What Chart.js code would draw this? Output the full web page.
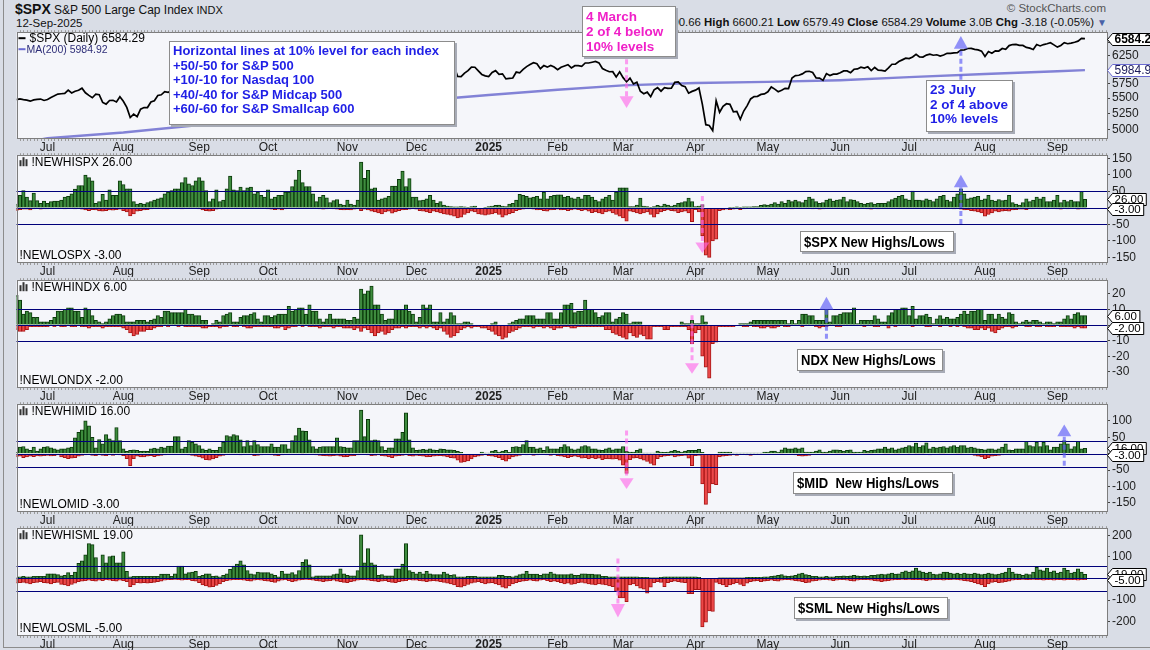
<!DOCTYPE html>
<html>
<head>
<meta charset="utf-8">
<title>$SPX New Highs/Lows</title>
<script src="https://cdn.jsdelivr.net/npm/chart.js@4.4.1/dist/chart.umd.min.js"></script>
<style>
  body { margin:0; width:1150px; height:650px; background:#d9dde6; position:relative; overflow:hidden; font-family:'Liberation Sans', Arial, sans-serif; color:#111; }
  canvas { position:absolute; left:0; }
  .txt { position:absolute; white-space:pre; }
  .note { position:absolute; background:#fff; border:1px solid #8c8c8c; box-shadow:2px 2px 0 #a7abb6; font-weight:bold; white-space:pre; z-index:5; }
  .title { font-size:15px; color:#000; line-height:19px; padding-left:3px; }
  .title span { display:inline-block; transform:scaleX(.87); transform-origin:0 50%; }
  .frame { position:absolute; left:3px; top:0; width:1147px; height:647px; border-left:1px solid #8c8c8c; border-bottom:1px solid #8c8c8c; }
</style>
</head>
<body>
<div class="frame"></div>
<div class="txt" style="left:15px;top:1px;font-size:14px;font-weight:bold">$SPX</div>
<div class="txt" style="left:54px;top:3px;font-size:12px">S&amp;P 500 Large Cap Index <span style="font-size:11px">INDX</span></div>
<div class="txt" style="left:16px;top:17px;font-size:11.5px">12-Sep-2025</div>
<div class="txt" style="right:44px;top:2px;font-size:11.5px;color:#555">© StockCharts.com</div>
<div class="txt" style="right:43px;top:16px;font-size:11.4px"><b>Open</b> 6590.66 <b>High</b> 6600.21 <b>Low</b> 6579.49 <b>Close</b> 6584.29 <b>Volume</b> 3.0B <b>Chg</b> -3.18 (-0.05%) <span style="color:#4a62a8;font-size:10px">▼</span></div>

<canvas id="c1" width="1150" height="130" style="top:23px"></canvas>
<canvas id="c2" width="1150" height="131" style="top:146px"></canvas>
<canvas id="c3" width="1150" height="131" style="top:271px"></canvas>
<canvas id="c4" width="1150" height="131" style="top:395px"></canvas>
<canvas id="c5" width="1150" height="131" style="top:519px"></canvas>

<div class="note" style="left:169px;top:41px;width:281px;height:80px;padding:2px 0 0 3px;color:#1f1fe6;font-size:13px;line-height:14.6px">Horizontal lines at 10% level for each index
+50/-50 for S&amp;P 500
+10/-10 for Nasdaq 100
+40/-40 for S&amp;P Midcap 500
+60/-60 for S&amp;P Smallcap 600</div>
<div class="note" style="left:582px;top:6px;width:89px;height:47px;padding:2px 0 0 3px;color:#f020c8;font-size:13.5px;line-height:15px">4 March
2 of 4 below
10% levels</div>
<div class="note" style="left:926px;top:80px;width:82px;height:48px;padding:2px 0 0 3px;color:#1f1fe6;font-size:13.5px;line-height:14.5px">23 July
2 of 4 above
10% levels</div>
<div class="note title" style="left:800px;top:231px;width:149px;height:19px"><span>$SPX New Highs/Lows</span></div>
<div class="note title" style="left:797px;top:349px;width:141px;height:20px"><span>NDX New Highs/Lows</span></div>
<div class="note title" style="left:793px;top:472px;width:155px;height:20px"><span>$MID  New Highs/Lows</span></div>
<div class="note title" style="left:794px;top:597px;width:149px;height:20px"><span>$SML New Highs/Lows</span></div>

<script>
// trading days from 17-Jun-2024 to 12-Sep-2025, one value per day, one line per month
const monthNames = ['Jul','Aug','Sep','Oct','Nov','Dec','2025','Feb','Mar','Apr','May','Jun','Jul','Aug','Sep'];
const monthStart = [9,31,53,73,96,116,137,157,176,197,218,239,259,281,302];

const spxClose = [
  5473,5487,5473,5465,5448,5469,5478,5483,5460,
  5475,5509,5537,5567,5572,5577,5633,5585,5615,5631,5667,5588,5544,5505,5564,5555,5427,5400,5459,5463,5436,5522,
  5446,5347,5186,5240,5199,5319,5344,5344,5435,5455,5543,5554,5608,5597,5621,5571,5635,5617,5626,5592,5592,5648,
  5529,5520,5503,5408,5471,5496,5554,5596,5626,5634,5635,5618,5714,5703,5719,5732,5722,5745,5738,5762,
  5709,5710,5700,5751,5696,5751,5793,5780,5815,5859,5815,5843,5841,5864,5853,5851,5797,5809,5808,5823,5833,5813,5705,
  5729,5712,5782,5929,5973,5996,6001,5984,5985,5949,5870,5894,5917,5917,5949,5969,5987,6021,5999,6032,
  6047,6050,6086,6075,6090,6053,6034,6084,6051,6051,6074,6050,5872,5867,5931,5975,6040,6037,5971,5907,5882,
  5869,5942,5975,5909,5918,5827,5836,5843,5950,5937,5997,6049,6086,6119,6101,6012,6068,6039,6071,6041,
  5994,6038,6061,6084,6026,6066,6068,6052,6115,6115,6129,6144,6118,6013,5983,5955,5956,5861,5955,
  5850,5778,5842,5739,5770,5615,5572,5599,5522,5639,5675,5615,5676,5663,5668,5768,5777,5712,5693,5581,5612,
  5633,5671,5397,5074,5062,4983,5457,5268,5363,5406,5397,5276,5283,5158,5288,5376,5485,5525,5529,5561,5569,
  5604,5687,5650,5607,5631,5664,5660,5844,5886,5892,5917,5958,5964,5941,5845,5842,5802,5922,5889,5912,5912,
  5936,5970,5971,5939,6000,6006,6038,6022,6045,5977,6033,5983,5981,5967,6025,6092,6092,6141,6173,6205,
  6198,6227,6279,6230,6226,6263,6281,6260,6269,6244,6264,6297,6297,6306,6309,6359,6363,6389,6390,6371,6363,6339,
  6238,6330,6299,6345,6340,6389,6374,6446,6466,6469,6450,6449,6411,6396,6370,6467,6439,6466,6481,6502,6460,
  6416,6448,6502,6482,6495,6512,6532,6587,6584.29
];
const maDay = [0,9,31,53,73,96,116,137,157,176,197,218,239,259,281,302,310];
const maValue = [4790,4870,4955,5070,5200,5330,5450,5550,5640,5715,5755,5775,5805,5860,5915,5965,5984.92];

const spxHi = [
  12,38,53,33,22,45,22,14,21,
  14,19,21,21,24,33,35,43,57,68,68,100,92,82,14,19,41,24,55,38,38,82,
  71,58,58,19,12,14,12,16,19,24,28,31,43,48,53,58,58,77,92,73,68,82,
  92,82,53,19,28,55,19,24,58,97,55,53,63,53,61,63,43,48,38,33,
  55,28,33,38,38,48,48,65,85,114,77,65,65,43,19,33,38,31,16,22,25,12,9,
  24,12,9,24,139,90,114,58,61,24,28,31,35,66,66,87,112,65,89,33,
  33,22,24,28,38,24,14,19,9,6,4,3,3,4,3,2,4,6,0,0,2,
  4,6,8,9,6,4,12,14,24,41,38,35,31,33,35,28,48,28,35,38,
  40,40,33,35,31,28,33,28,38,38,33,24,19,28,33,38,24,48,61,
  61,61,4,4,9,30,6,4,2,4,8,6,12,9,6,9,14,16,19,30,19,
  4,6,10,0,0,0,0,0,0,0,2,1,3,2,3,3,3,4,4,8,10,
  9,12,16,12,19,14,24,19,24,19,16,24,33,28,19,14,16,24,28,21,24,
  25,33,19,25,24,19,14,12,14,16,12,14,14,14,19,25,30,35,38,28,
  24,51,24,24,22,28,24,19,28,35,38,24,19,33,43,58,43,28,31,33,35,24,
  28,38,24,21,25,22,24,38,16,12,9,16,28,19,24,33,28,33,19,19,24,
  38,16,24,19,24,19,19,50,26
];
const spxLo = [
  -8,-5,-4,-4,-6,-3,-2,-4,-3,
  -3,-2,-2,-1,-2,-3,-2,-2,-3,-2,-4,-6,-8,-5,-6,-9,-10,-8,-6,-7,-5,-4,
  -8,-12,-24,-18,-10,-8,-6,-5,-3,-2,-2,-1,-1,-1,-2,-2,-1,-3,-2,-2,-1,-2,
  -3,-6,-8,-10,-8,-4,-3,-2,-2,-1,-1,-2,-2,-1,-1,-2,-2,-1,-2,-2,
  -3,-4,-5,-4,-6,-3,-2,-2,-2,-1,-1,-2,-2,-1,-1,-3,-4,-3,-2,-3,-4,-5,-6,
  -5,-6,-4,-3,-8,-4,-6,-10,-12,-15,-18,-12,-10,-16,-12,-8,-6,-5,-4,-3,
  -4,-8,-10,-12,-14,-10,-12,-15,-18,-20,-22,-25,-30,-28,-20,-15,-10,-12,-18,-20,-22,
  -20,-18,-15,-20,-28,-22,-18,-14,-8,-5,-4,-3,-3,-4,-6,-5,-8,-10,-6,-5,
  -4,-6,-5,-8,-6,-4,-5,-8,-6,-10,-14,-12,-15,-18,-12,-10,-15,-20,-25,
  -30,-40,-10,-12,-15,-18,-15,-12,-20,-28,-18,-12,-8,-6,-8,-10,-14,-12,-10,-15,-42,
  -5,-12,-85,-143,-150,-100,-95,-8,-6,-4,-5,-4,-3,-5,-3,-2,-2,-1,-1,-1,-1,
  -2,-1,-1,-1,-2,-1,-2,-3,-2,-1,-1,-1,-2,-3,-2,-4,-3,-2,-2,-1,-1,
  -2,-3,-2,-2,-1,-2,-1,-2,-3,-4,-2,-3,-2,-2,-1,-1,-2,-1,-1,-2,
  -2,-1,-2,-1,-1,-2,-1,-1,-2,-2,-1,-1,-2,-3,-2,-4,-6,-5,-8,-10,-12,-15,
  -25,-20,-15,-10,-12,-10,-8,-10,-6,-5,-4,-4,-5,-3,-3,-2,-3,-2,-3,-2,-2,
  -3,-4,-2,-3,-2,-2,-4,-3,-3
];

const ndxHi = [
  19,16,7,9,8,5,5,2,2,
  2,3,5,9,9,10,11,11,9,9,5,11,10,6,3,2,1,2,4,6,7,7,
  6,2,2,2,3,3,3,2,3,4,6,5,9,9,8,8,8,8,10,7,7,6,
  6,3,3,0,1,3,2,6,7,8,2,2,5,6,6,7,8,4,2,6,
  6,5,6,7,7,7,12,9,10,11,11,7,13,9,9,4,2,4,7,4,4,4,4,
  3,3,5,4,23,20,22,25,13,13,7,3,4,4,10,10,10,13,9,7,
  2,5,13,11,13,2,2,8,2,4,8,6,1,1,2,2,1,0,0,0,0,
  0,1,2,0,0,0,1,2,3,4,4,6,6,6,4,4,4,8,8,4,
  4,8,13,13,14,8,9,9,16,10,10,8,5,6,8,8,2,4,5,
  8,7,1,2,2,2,0,0,0,0,0,0,0,0,0,0,0,2,1,1,3,
  1,1,6,2,0,0,0,0,0,0,0,0,0,1,1,1,2,3,3,3,3,
  3,3,3,3,3,3,1,3,1,3,7,7,6,6,3,3,3,10,2,6,6,
  7,8,8,8,11,1,3,3,3,3,6,4,2,2,6,8,10,10,11,11,
  6,12,4,6,6,7,5,1,4,6,4,5,4,4,5,7,9,7,9,9,10,10,
  3,7,7,4,7,5,4,8,7,2,1,2,3,2,3,3,2,1,2,2,1,
  2,2,4,6,4,7,8,6,6
];
const ndxLo = [
  -3,-4,-4,-3,-1,-1,-1,-1,-1,
  -1,0,-1,0,-1,-1,0,-1,-1,0,-1,-1,-2,-1,-1,-1,-2,-1,-1,-1,-1,-1,
  -2,-3,-5,-7,-6,-4,-4,-3,-3,-2,-1,-1,0,-1,0,0,-1,0,-1,-1,-1,-1,
  -1,-2,-2,-1,-1,-1,-2,-1,-1,0,-1,-1,0,-1,-2,-2,-1,-1,-1,-1,
  -1,-1,-2,-2,-1,-3,-2,-1,-1,0,-1,0,-1,-1,-1,-2,-1,-1,-1,-2,-1,-1,-2,
  -2,-2,-3,-2,-4,-2,-3,-5,-7,-5,-4,-6,-5,-3,-2,-2,-1,-2,-1,-1,
  -1,-2,-1,-2,-1,-2,-3,-2,-4,-6,-8,-7,-5,-3,-2,-1,-2,-1,-1,-2,-2,
  -3,-4,-6,-7,-9,-8,-5,-4,-3,-2,-1,-1,-1,-2,-1,-1,-2,-1,-2,-3,
  -2,-2,-1,-1,-2,-2,-1,-1,-1,-1,-1,-1,-1,-1,-3,-3,-5,-6,-7,
  -8,-9,-5,-7,-8,-6,-7,-9,-9,-1,-1,-1,-3,-3,-1,-1,-1,-1,-1,-3,-12,
  -5,-3,-20,-27,-34,-12,-11,-1,-1,-1,-1,-1,0,0,-1,-1,0,-1,-1,-2,-2,
  -1,-2,-2,-1,0,-1,-1,0,0,0,-1,0,0,0,-1,-2,-1,-1,0,0,-1,
  -1,0,0,0,0,0,0,-1,0,0,-1,-1,0,0,-2,0,-1,0,0,0,
  0,-1,0,0,0,-1,-1,0,0,-1,0,0,-1,0,-1,0,-1,-2,-2,-3,-3,-2,
  -3,-2,-4,-5,-3,-2,-1,-1,-2,-1,0,0,-1,-1,0,-1,-1,0,-1,-1,-1,
  0,-1,-1,-1,-1,-2,-1,-2,-2
];

const midHi = [
  5,20,22,15,10,20,8,15,20,
  22,18,15,12,15,15,18,20,48,65,73,100,85,50,18,43,30,58,45,40,80,40,
  15,7,10,12,10,7,8,7,15,17,15,20,18,23,23,52,52,15,20,40,35,30,
  25,15,10,15,10,10,20,35,55,52,58,55,42,22,40,25,40,28,22,22,
  22,30,20,20,28,28,15,40,55,78,70,68,42,22,15,20,22,22,22,22,48,22,20,
  18,18,40,40,133,52,105,40,42,40,22,10,18,18,45,45,65,125,42,18,
  10,12,13,12,15,12,10,15,13,12,12,10,7,4,0,0,0,0,0,5,2,
  2,8,10,5,8,10,4,20,22,20,28,40,20,20,15,18,10,22,15,15,
  15,20,28,22,15,12,15,22,25,22,15,15,12,10,15,18,12,15,15,
  22,7,5,5,10,15,2,2,2,2,8,5,4,5,8,10,8,5,8,10,10,
  10,13,4,0,0,0,0,5,5,5,5,2,2,2,2,2,2,2,2,2,5,
  5,8,8,5,12,18,15,15,18,15,18,5,5,5,8,12,5,5,8,12,12,
  10,8,10,12,5,5,5,10,8,10,12,15,15,20,15,18,12,15,18,20,
  25,22,32,20,25,33,15,20,18,20,22,18,22,25,20,25,25,18,20,18,15,13,
  12,15,15,12,15,20,30,12,10,15,15,15,38,25,22,35,22,35,25,12,20,
  20,30,40,30,15,22,38,15,16
];
const midLo = [
  -10,-8,-12,-10,-8,-9,-7,-8,-6,
  -5,-7,-6,-4,-10,-12,-15,-14,-12,-8,-5,-4,-3,-5,-6,-4,-5,-6,-4,-5,-3,-4,
  -6,-15,-37,-15,-8,-10,-10,-8,-6,-9,-7,-5,-4,-3,-3,-2,-3,-2,-3,-4,-5,-8,
  -10,-14,-18,-20,-16,-12,-8,-5,-3,-2,-2,-3,-4,-3,-2,-3,-6,-5,-4,-3,
  -3,-4,-5,-6,-4,-3,-2,-3,-2,-2,-1,-2,-2,-3,-4,-5,-6,-7,-8,-6,-5,-8,-10,
  -9,-7,-6,-4,-2,-3,-4,-6,-5,-4,-6,-8,-10,-12,-8,-6,-5,-4,-6,-8,
  -5,-6,-8,-10,-9,-8,-7,-6,-8,-10,-12,-14,-20,-27,-25,-22,-16,-10,-8,-5,-4,
  -6,-8,-10,-12,-18,-23,-16,-10,-8,-5,-3,-4,-3,-5,-4,-3,-2,-4,-5,-3,
  -6,-8,-10,-12,-9,-8,-10,-14,-12,-16,-13,-15,-14,-18,-15,-16,-17,-15,-20,
  -35,-60,-18,-14,-12,-16,-20,-24,-30,-35,-15,-10,-8,-6,-5,-10,-8,-6,-5,-14,-37,
  -6,-5,-92,-155,-120,-92,-95,-10,-8,-6,-5,-4,-5,-3,-3,-4,-5,-3,-2,-2,-2,
  -2,-2,-3,-2,-1,-2,-3,-2,-4,-6,-8,-7,-5,-3,-2,-2,-1,-1,-2,-2,-1,
  -1,-1,-2,-1,-1,-2,-2,-1,-1,-1,-2,-3,-2,-1,-1,-2,-1,-1,-2,-2,
  -1,-2,-1,-1,-1,-3,-4,-3,-2,-1,-1,-2,-3,-2,-1,-1,-2,-2,-3,-5,-8,-10,
  -15,-12,-8,-6,-5,-4,-3,-3,-2,-2,-3,-2,-1,-2,-2,-3,-2,-3,-2,-3,-2,
  -2,-3,-2,-3,-2,-3,-2,-4,-3
];

const smlHi = [
  3,8,10,8,8,10,10,10,10,
  22,22,22,18,12,15,27,15,30,70,82,110,162,157,97,30,110,72,102,105,72,72,
  123,33,8,10,10,10,10,10,10,10,10,20,20,20,10,22,57,57,22,27,30,33,
  10,15,22,22,10,12,8,15,22,42,57,67,82,63,37,22,18,30,27,27,
  27,22,15,8,33,22,22,27,18,37,75,87,63,8,12,12,12,12,12,18,22,45,22,
  15,12,12,37,202,72,138,72,63,15,18,12,12,12,45,45,67,162,37,30,
  22,30,22,33,22,18,18,18,30,22,15,18,8,8,8,10,10,10,8,8,8,
  8,8,8,15,15,10,10,8,12,18,22,33,20,20,20,15,22,22,30,22,
  18,18,18,18,22,15,15,22,22,20,20,18,18,10,10,8,8,8,8,
  8,8,8,8,8,5,5,5,3,3,3,5,8,8,8,8,8,8,8,8,8,
  8,5,0,0,0,0,0,3,3,3,3,3,3,3,3,5,5,5,5,5,8,
  8,10,12,15,18,12,10,12,15,22,25,18,15,10,10,8,8,10,8,8,10,
  10,12,10,12,15,12,10,12,10,15,15,18,20,18,22,25,20,22,30,35,
  30,35,48,35,30,25,30,20,18,22,30,30,25,22,25,20,25,22,20,25,22,18,
  20,25,22,18,20,25,30,48,30,22,20,15,22,18,30,52,40,35,48,30,35,
  25,30,48,38,25,30,45,30,19
];
const smlLo = [
  -22,-20,-18,-22,-25,-20,-18,-15,-20,
  -22,-25,-20,-18,-27,-30,-35,-28,-22,-15,-12,-10,-8,-10,-12,-8,-10,-6,-8,-10,-12,-8,
  -10,-15,-38,-30,-20,-22,-20,-22,-20,-18,-15,-12,-8,-6,-5,-4,-6,-8,-5,-6,-10,-12,
  -20,-30,-35,-40,-38,-32,-25,-15,-10,-8,-6,-5,-6,-8,-10,-12,-8,-6,-8,-10,
  -12,-15,-18,-12,-8,-6,-10,-15,-12,-8,-5,-4,-5,-8,-10,-12,-15,-12,-10,-8,-12,-15,-18,
  -20,-15,-12,-8,-5,-6,-8,-10,-12,-15,-12,-10,-15,-18,-20,-15,-12,-10,-6,-8,
  -8,-10,-12,-15,-12,-10,-12,-15,-18,-22,-25,-30,-38,-40,-35,-28,-22,-18,-15,-20,-25,
  -22,-20,-25,-30,-40,-45,-35,-25,-20,-15,-12,-10,-8,-10,-12,-8,-6,-10,-15,-12,
  -15,-20,-25,-22,-28,-25,-20,-18,-22,-25,-28,-30,-25,-28,-30,-35,-38,-60,-90,
  -90,-108,-30,-25,-35,-45,-50,-68,-40,-20,-15,-18,-38,-20,-15,-12,-15,-18,-20,-70,-70,
  -52,-52,-225,-203,-150,-153,-18,-25,-30,-38,-30,-25,-20,-28,-35,-22,-15,-12,-10,-15,-12,
  -10,-8,-10,-12,-8,-6,-5,-8,-10,-12,-15,-20,-18,-12,-10,-8,-5,-6,-8,-10,-8,
  -6,-5,-8,-10,-12,-8,-6,-5,-6,-8,-10,-12,-15,-12,-10,-8,-6,-5,-4,-5,
  -4,-5,-6,-5,-8,-10,-8,-6,-5,-6,-8,-6,-5,-4,-6,-8,-10,-12,-15,-20,-25,-30,
  -38,-25,-18,-15,-20,-18,-15,-12,-8,-6,-5,-4,-5,-6,-4,-5,-6,-8,-5,-6,-8,
  -6,-5,-8,-6,-5,-6,-8,-6,-5
];

const PINK = 'rgba(255,100,232,0.62)';
const BLUE = 'rgba(96,96,246,0.68)';

Chart.defaults.font.family = "'Liberation Sans', Arial, sans-serif";

function drawArrow(ctx, px, y0, y1, y2, col) {
  ctx.save();
  ctx.strokeStyle = col;
  ctx.lineWidth = 3;
  ctx.setLineDash([5, 3]);
  ctx.beginPath(); ctx.moveTo(px, y0); ctx.lineTo(px, y1); ctx.stroke();
  ctx.setLineDash([]);
  ctx.fillStyle = col;
  ctx.beginPath(); ctx.moveTo(px - 7, y1); ctx.lineTo(px + 7, y1); ctx.lineTo(px, y2); ctx.closePath(); ctx.fill();
  ctx.restore();
}

function barIcon(ctx, x, y) {
  ctx.fillStyle = '#333';
  ctx.fillRect(x, y - 2, 2, 6);
  ctx.fillRect(x + 3, y - 5, 2, 9);
  ctx.fillRect(x + 6, y - 3, 2, 7);
}

const panelPlugin = {
  id: 'panel',
  beforeDraw(chart) {
    const { ctx, chartArea: a } = chart;
    ctx.save();
    ctx.fillStyle = '#f5f6fa';
    ctx.fillRect(a.left, a.top, a.right - a.left, a.bottom - a.top);
    ctx.restore();
  },
  afterDatasetsDraw(chart, args, o) {
    const { ctx, chartArea: a, scales: { x, y } } = chart;
    ctx.save();
    if (o.level) {
      ctx.strokeStyle = '#00007a';
      ctx.lineWidth = 1.2;
      [o.level, 0, -o.level].forEach(v => {
        const py = Math.round(y.getPixelForValue(v)) + 0.5;
        ctx.beginPath(); ctx.moveTo(a.left, py); ctx.lineTo(a.right, py); ctx.stroke();
      });
    }
    ctx.strokeStyle = '#7d7d7d';
    ctx.lineWidth = 1;
    ctx.strokeRect(Math.round(a.left) + 0.5, Math.round(a.top) + 0.5, Math.round(a.right - a.left) - 1, Math.round(a.bottom - a.top));
    // one small tick per trading day along the top and bottom borders
    ctx.strokeStyle = '#9a9a9a';
    ctx.beginPath();
    for (let i = 1; i <= Math.floor(x.max); i++) {
      const px = Math.round(x.getPixelForValue(i)) + 0.5;
      ctx.moveTo(px, a.top - 2); ctx.lineTo(px, a.top);
      ctx.moveTo(px, a.bottom + 1); ctx.lineTo(px, a.bottom + 3);
    }
    ctx.stroke();

    ctx.textBaseline = 'middle';
    ctx.textAlign = 'left';
    if (o.priceLegend) {
      ctx.fillStyle = '#000';
      ctx.fillRect(a.left + 2, a.top + 5, 7, 2);
      ctx.font = "12px 'Liberation Sans', Arial";
      ctx.fillText(o.priceLegend, a.left + 13, a.top + 6.5);
      ctx.fillStyle = '#6a6ad2';
      ctx.fillRect(a.left + 2, a.top + 16, 7, 2);
      ctx.fillStyle = '#2e2e78';
      ctx.font = "10.5px 'Liberation Sans', Arial";
      ctx.fillText(o.maLegend, a.left + 10, a.top + 17.5);
    }
    if (o.hiName) {
      barIcon(ctx, a.left + 3, a.top + 7);
      ctx.fillStyle = '#000';
      ctx.font = "12px 'Liberation Sans', Arial";
      ctx.fillText(o.hiName, a.left + 15, a.top + 7.5);
      ctx.fillText(o.loName, a.left + 3, a.bottom - 6.5);
    }
    (o.arrows || []).forEach(ar => drawArrow(ctx, x.getPixelForValue(ar.i), y.getPixelForValue(ar.from),
      y.getPixelForValue(ar.to), y.getPixelForValue(ar.tip), ar.c));
    ctx.restore();
  },
  afterDraw(chart, args, o) {
    const { ctx, chartArea: a, scales: { y } } = chart;
    ctx.save();
    (o.boxes || []).forEach(b => {
      const py = Math.round(y.getPixelForValue(b.v)) + 0.5;
      ctx.font = b.font;
      const w = ctx.measureText(b.text).width + 5;
      const x0 = Math.round(a.right) + 0.5, h = 12;
      ctx.beginPath();
      ctx.moveTo(x0, py);
      ctx.lineTo(x0 + 5, py - h / 2);
      ctx.lineTo(x0 + 5 + w, py - h / 2);
      ctx.lineTo(x0 + 5 + w, py + h / 2);
      ctx.lineTo(x0 + 5, py + h / 2);
      ctx.closePath();
      ctx.fillStyle = '#fff'; ctx.fill();
      ctx.strokeStyle = b.border; ctx.lineWidth = 1; ctx.stroke();
      ctx.fillStyle = b.color; ctx.textBaseline = 'middle'; ctx.textAlign = 'left';
      ctx.fillText(b.text, x0 + 7, py + 0.5);
    });
    ctx.restore();
  }
};
Chart.register(panelPlugin);

function xAxis() {
  return {
    type: 'linear', min: 0, max: 316.4, bounds: 'data', offset: false,
    grid: { display: false, drawTicks: false, tickLength: 0, offset: false },
    border: { display: false },
    afterBuildTicks: s => { s.ticks = monthStart.map(v => ({ value: v })); },
    afterFit: s => { s.height = 15; },
    ticks: {
      autoSkip: false, maxRotation: 0, padding: 2, color: '#222',
      font: c => ({ size: 12, weight: c.tick && c.tick.value === 137 ? 'bold' : 'normal' }),
      callback: v => monthNames[monthStart.indexOf(v)] || ''
    }
  };
}

function yAxis(type, min, max, tickValues) {
  return {
    type: type, position: 'right', min: min, max: max,
    grid: { drawOnChartArea: false, tickLength: 3, color: '#444' },
    border: { display: false },
    afterBuildTicks: s => { s.ticks = tickValues.map(v => ({ value: v })); },
    afterFit: s => { s.width = 43; },
    ticks: { padding: 2, color: '#222', font: { size: 12 }, callback: v => String(v) }
  };
}

const baseOpts = { responsive: false, animation: false, events: [] };
const pad = { left: 16.5, right: 0, top: 6, bottom: 0 };

const lastClose = spxClose[spxClose.length - 1];
const lastMa = maValue[maValue.length - 1];

new Chart(document.getElementById('c1'), {
  type: 'line',
  data: {
    datasets: [
      { data: spxClose.map((v, i) => ({ x: i, y: v })), borderColor: '#000', borderWidth: 1.7, pointRadius: 0, tension: 0 },
      { data: maDay.map((d, k) => ({ x: d, y: maValue[k] })), borderColor: '#8282d6', borderWidth: 2.4, pointRadius: 0 }
    ]
  },
  options: {
    ...baseOpts,
    layout: { padding: pad },
    scales: { x: xAxis(), y: yAxis('logarithmic', 4874, 6712, [5000, 5250, 5500, 5750, 6000, 6250, 6500]) },
    plugins: {
      legend: { display: false }, tooltip: { enabled: false },
      panel: {
        priceLegend: '$SPX (Daily) ' + lastClose.toFixed(2),
        maLegend: 'MA(200) ' + lastMa.toFixed(2),
        arrows: [
          { i: 177, from: 6183, to: 5530, tip: 5338, c: PINK },
          { i: 274, from: 5813, to: 6386, tip: 6634, c: BLUE }
        ],
        boxes: [
          { v: lastMa, text: lastMa.toFixed(2), font: "12px 'Liberation Sans', Arial", color: '#1a1a5a', border: '#6a6ad0' },
          { v: lastClose, text: lastClose.toFixed(2), font: "bold 12px 'Liberation Sans', Arial", color: '#000', border: '#000' }
        ]
      }
    }
  }
});

function barPanel(id, hi, lo, min, max, tickValues, level, code, arrows) {
  const h = hi[hi.length - 1], l = lo[lo.length - 1];
  const smallFont = "11.5px 'Liberation Sans', Arial";
  new Chart(document.getElementById(id), {
    type: 'bar',
    data: {
      datasets: [
        { data: hi.map((v, i) => ({ x: i, y: v })), backgroundColor: '#3e8c3e', borderColor: '#0b3a0b', borderWidth: 1,
          barPercentage: 1, categoryPercentage: 1, grouped: false },
        { data: lo.map((v, i) => ({ x: i, y: v })), backgroundColor: '#ec4848', borderColor: '#a81616', borderWidth: 1,
          barPercentage: 1, categoryPercentage: 1, grouped: false }
      ]
    },
    options: {
      ...baseOpts,
      layout: { padding: pad },
      scales: { x: xAxis(), y: yAxis('linear', min, max, tickValues) },
      plugins: {
        legend: { display: false }, tooltip: { enabled: false },
        panel: {
          level: level,
          hiName: '!NEWHI' + code + ' ' + h.toFixed(2),
          loName: '!NEWLO' + code + ' ' + l.toFixed(2),
          arrows: arrows,
          boxes: [
            { v: h, text: h.toFixed(2), font: smallFont, color: '#000', border: '#000' },
            { v: l, text: l.toFixed(2), font: smallFont, color: '#000', border: '#000' }
          ]
        }
      }
    }
  });
}

barPanel('c2', spxHi, spxLo, -164, 160, [-150, -100, -50, 0, 50, 100, 150], 50, 'SPX', [
  { i: 199, from: 36, to: -105, tip: -137, c: PINK },
  { i: 274, from: -49, to: 63, tip: 101, c: BLUE }
]);
barPanel('c3', ndxHi, ndxLo, -39.7, 28.75, [-30, -20, -10, 0, 10, 20], 10, 'NDX', [
  { i: 196, from: 6.25, to: -24.4, tip: -31.25, c: PINK },
  { i: 235, from: -8.75, to: 10, tip: 18.1, c: BLUE }
]);
barPanel('c4', midHi, midLo, -175, 151, [-150, -100, -50, 0, 50, 100], 40, 'MID', [
  { i: 177, from: 71, to: -75, tip: -108, c: PINK },
  { i: 304, from: -37, to: 53, tip: 89, c: BLUE }
]);
barPanel('c5', smlHi, smlLo, -262, 233, [-200, -100, 0, 100, 200], 60, 'SML', [
  { i: 174.5, from: 93, to: -118, tip: -181, c: PINK }
]);
</script>
</body>
</html>
